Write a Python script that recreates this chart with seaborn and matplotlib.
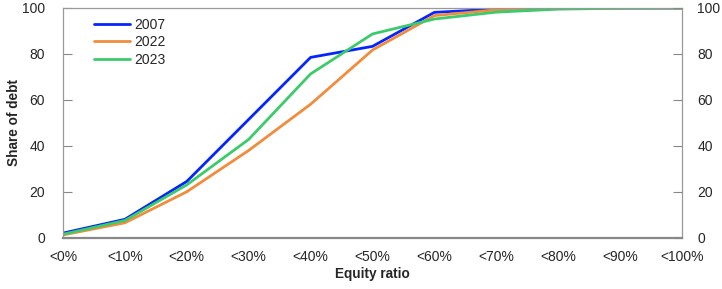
import numpy as np
import pandas as pd
import matplotlib
matplotlib.use("Agg")
import matplotlib.pyplot as plt
import seaborn as sns

categories = ["<0%", "<10%", "<20%", "<30%", "<40%", "<50%", "<60%", "<70%", "<80%", "<90%", "<100%"]
y2007 = [2.0, 8.0, 24.5, 51.5, 78.5, 83.3, 98.1, 99.5, 99.9, 100.0, 100.0]
y2022 = [1.2, 6.5, 20.0, 38.0, 58.1, 81.7, 96.7, 99.2, 99.8, 100.0, 100.0]
y2023 = [1.5, 7.5, 23.0, 42.8, 71.3, 88.7, 95.2, 98.2, 99.5, 99.9, 100.0]
series_names = ["2007", "2022", "2023"]
yticks = [0, 20, 40, 60, 80, 100]

sns.set_style("white")
plt.rcParams['font.family'] = ['Liberation Sans', 'DejaVu Sans']

rows = []
for name, vals in zip(series_names, [y2007, y2022, y2023]):
    for i, v in enumerate(vals):
        rows.append({"x": i, "value": v, "series": name})
df = pd.DataFrame(rows)

palette = {"2007": "#0525FF", "2022": "#F28C3C", "2023": "#3CCB6B"}

fig = plt.figure(figsize=(7.22, 2.89), dpi=100)
ax = fig.add_axes([63/722, 1-237.7/289, (682-63)/722, (237.7-8)/289])
sns.lineplot(data=df, x="x", y="value", hue="series", palette=palette, linewidth=2, ax=ax)

ax.set_xlim(0, len(categories) - 1)
ax.set_ylim(0, 100)
ax.set_xticks(range(len(categories)))
ax.set_xticklabels(categories)
ax.set_yticks(yticks)
ax.set_ylabel("Share of debt", fontsize=9.8, fontweight="bold")
ax.set_xlabel("Equity ratio", fontsize=9.8, fontweight="bold")
ax.tick_params(axis="both", direction="in", length=6.5, width=0.8, color="#888888", labelsize=10)
ax.tick_params(axis="x", pad=9)
ax.tick_params(axis="y", pad=13)
ax.yaxis.set_label_coords(-41.5/619, 0.5)
ax.xaxis.set_label_coords(0.5, -(267-237.7)/229.7)

for s in ["left", "right", "top"]:
    ax.spines[s].set_color("#999999")
    ax.spines[s].set_linewidth(0.9)
ax.spines["bottom"].set_color("#888888")
ax.spines["bottom"].set_linewidth(1.6)

ax2 = ax.twinx()
ax2.set_ylim(0, 100)
ax2.set_yticks(yticks)
ax2.tick_params(axis="y", direction="in", length=6.5, width=0.8, color="#888888", labelsize=10, pad=11)
for s in ax2.spines.values():
    s.set_visible(False)

leg = ax.legend(loc="upper left", bbox_to_anchor=(0.035, 1.0), frameon=False, fontsize=10,
                handlelength=2.6, handletextpad=0.25, labelspacing=0.25, borderaxespad=0.3)

fig.savefig("out.png", dpi=100)
